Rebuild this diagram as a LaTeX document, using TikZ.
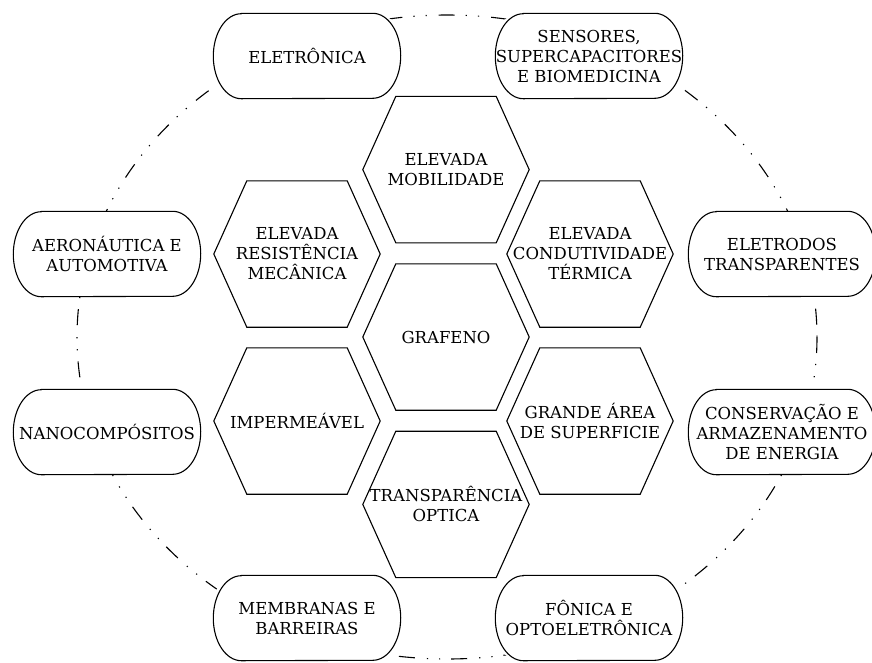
\documentclass[tikz,border=0pt]{standalone}
\usepackage{fontspec}
\setmainfont{DejaVu Serif}
\usetikzlibrary{positioning}
\tikzset{
  app/.style={rectangle, rounded corners=26pt, fill=white,
              minimum width=187pt, minimum height=85pt,
              inner sep=0pt, align=center,
              font=\fontsize{16.5}{20}\selectfont},
  appline/.style={draw=black, line width=1.1pt},
  prop/.style={rectangle, minimum width=166pt, minimum height=146pt,
               inner sep=0pt, align=center,
               font=\fontsize{16.5}{20}\selectfont},
  hexline/.style={draw=black, line width=1.1pt, line join=miter},
  ring/.style={line width=1.1pt,
               dash pattern=on 16pt off 11pt on 1.2pt off 11pt on 1.2pt off 12pt},
}
% hexagon drawn round a prop node
\newcommand{\hexcell}[1]{%
  \draw[hexline] ([xshift=33pt]#1.north west) -- ([xshift=-33pt]#1.north east)
    -- (#1.east) -- ([xshift=-33pt]#1.south east)
    -- ([xshift=33pt]#1.south west) -- (#1.west) -- cycle;}
% capsule with elliptic ends drawn round an app node
\newcommand{\appcell}[1]{%
  \draw[appline] ([xshift=28pt]#1.north west) -- ([xshift=-28pt]#1.north east)
    arc[start angle=90, end angle=-90, x radius=28pt, y radius=42.5pt]
    -- ([xshift=28pt]#1.south west)
    arc[start angle=270, end angle=90, x radius=28pt, y radius=42.5pt] -- cycle;}
% a line wider than the box, kept centred
\newcommand{\wide}[1]{\makebox[0pt]{#1}}

\begin{document}
\begin{tikzpicture}[x=1pt, y=-1pt]
  \useasboundingbox (0,0) rectangle (872,662);
  % dash-dot ring behind the applications
  \draw[ring] (447,337) ellipse [x radius=370, y radius=322];
  % properties
  \node[prop] at (446,337)          (graf)   {GRAFENO};
  \node[prop, above=21pt of graf]   (mob)    {ELEVADA\\MOBILIDADE};
  \node[prop, below=21pt of graf]   (transp) {TRANSPAR\^ENCIA\\OPTICA};
  \node[prop] at (297,254)          (res)    {ELEVADA\\RESIST\^ENCIA\\MEC\^ANICA};
  \node[prop] at (590,254)          (cond)   {ELEVADA\\CONDUTIVIDADE\\T\'ERMICA};
  \node[prop] at (297,421)          (imp)    {IMPERME\'AVEL};
  \node[prop] at (590,421)          (area)   {GRANDE \'AREA\\DE SUPERFICIE};
  \hexcell{graf}
  \hexcell{mob}
  \hexcell{transp}
  \hexcell{res}
  \hexcell{cond}
  \hexcell{imp}
  \hexcell{area}
  % applications
  \node[app] at (307,56)  (eletr)   {ELETR\^ONICA};
  \node[app] at (589,56)  (sens)    {SENSORES,\\\wide{SUPERCAPACITORES}\\E BIOMEDICINA};
  \node[app] at (107,254) (aero)    {AERON\'AUTICA E\\AUTOMOTIVA};
  \node[app] at (782,254) (eletrod) {ELETRODOS\\TRANSPARENTES};
  \node[app] at (107,432) (nano)    {NANOCOMP\'OSITOS};
  \node[app] at (782,432) (cons)    {CONSERVA\c{C}\~AO E\\ARMAZENAMENTO\\DE ENERGIA};
  \node[app] at (307,618) (memb)    {MEMBRANAS E\\BARREIRAS};
  \node[app] at (589,618) (fon)     {F\^ONICA E\\OPTOELETR\^ONICA};
  \appcell{eletr}
  \appcell{sens}
  \appcell{aero}
  \appcell{eletrod}
  \appcell{nano}
  \appcell{cons}
  \appcell{memb}
  \appcell{fon}
\end{tikzpicture}
\end{document}
